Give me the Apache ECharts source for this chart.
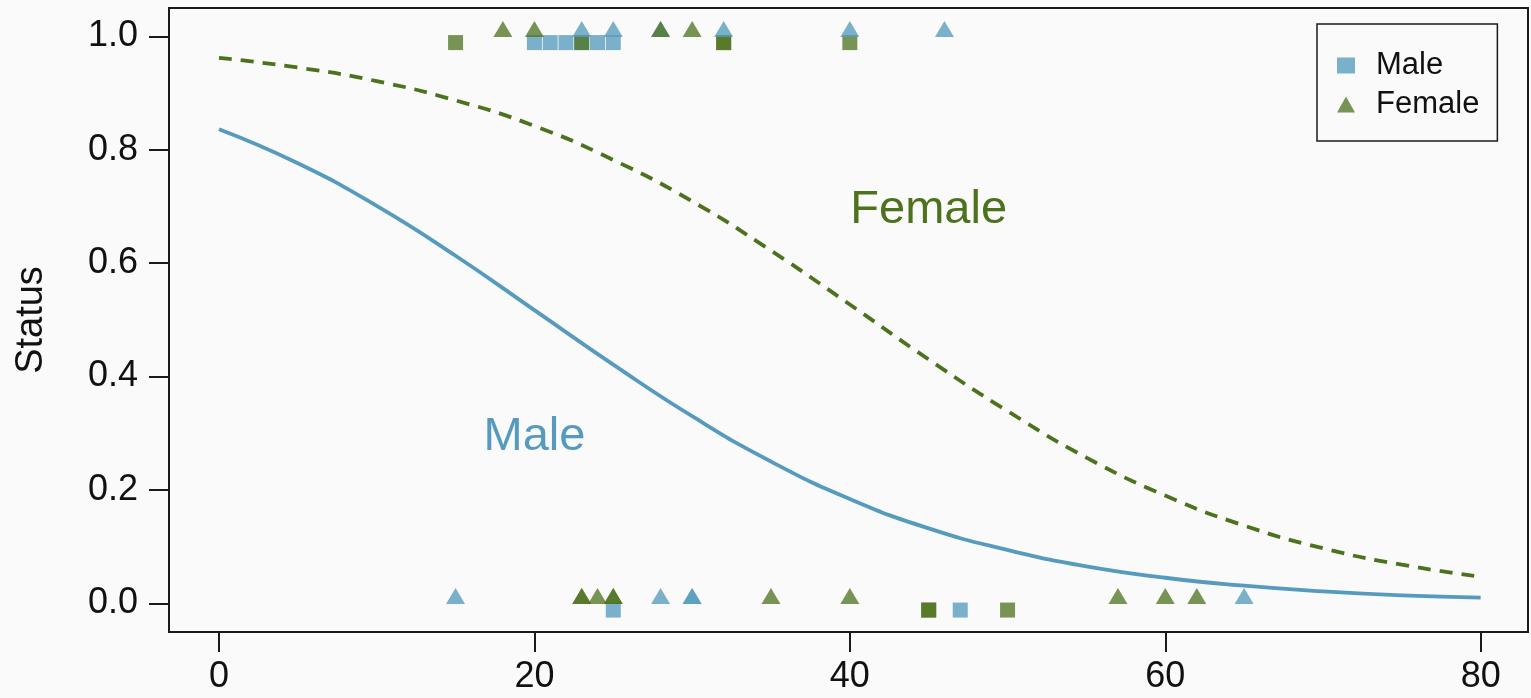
<!DOCTYPE html>
<html>
<head>
<meta charset="utf-8">
<script src="https://cdn.jsdelivr.net/npm/echarts@6/dist/echarts.min.js"></script>
<style>
html,body{margin:0;padding:0;background:#fafafa;}
#c{width:1531px;height:698px;}
</style>
</head>
<body>
<div id="c"></div>
<script>
// Tick labels
var xTicks = [0, 20, 40, 60, 80];
var yTicks = [0, 0.2, 0.4, 0.6, 0.8, 1.0];

// Observed points (age, jittered status)
var blueSquares = [[20,0.989],[21,0.989],[22,0.989],[23,0.989],[24,0.989],[25,0.989],[25,-0.012],[47,-0.012]];
var greenSquares = [[15,0.989],[23,0.989],[32,0.989],[32,0.989],[40,0.989],[45,-0.012],[45,-0.012],[50,-0.012]];
var blueTriangles = [[23,1.013],[25,1.013],[28,1.013],[32,1.013],[40,1.013],[46,1.013],[15,0.013],[28,0.013],[30,0.013],[30,0.013],[65,0.013]];
var greenTriangles = [[18,1.013],[20,1.013],[28,1.013],[30,1.013],[23,0.013],[23,0.013],[24,0.013],[25,0.013],[25,0.013],[35,0.013],[40,0.013],[57,0.013],[60,0.013],[62,0.013]];

// Fitted curves
var curveAges = [0,5,10,15,20,25,30,35,40,45,50,55,60,65,70,75,80];
var maleCurve = [0.836,0.776,0.701,0.613,0.517,0.421,0.330,0.250,0.184,0.132,0.094,0.065,0.045,0.031,0.021,0.014,0.010];
var femaleCurve = [0.962,0.945,0.921,0.887,0.842,0.782,0.709,0.622,0.527,0.430,0.339,0.257,0.190,0.137,0.097,0.068,0.047];

// Annotations
var maleLabelPos = [20, 0.30];
var femaleLabelPos = [45, 0.70];

var BLUE = '#569BBD', GREEN = '#4C721D';
var BLUE_A = 'rgba(86,155,189,0.78)', GREEN_A = 'rgba(76,114,29,0.75)';
var FONT = 'Liberation Sans, Arial, Helvetica, sans-serif';

function zip(xs, ys){ return xs.map(function(x,i){ return [x, ys[i]]; }); }

var chart = echarts.init(document.getElementById('c'), null, {renderer:'canvas'});
chart.setOption({
  backgroundColor: '#fafafa',
  animation: false,
  textStyle: {fontFamily: FONT},
  grid: {left: 169, right: 3, top: 8, bottom: 66, show: true, borderColor: '#1a1a1a', borderWidth: 2, backgroundColor: 'transparent'},
  legend: {
    left: 1317, top: 24, orient: 'vertical',
    borderColor: '#1a1a1a', borderWidth: 1.5,
    padding: [26, 18, 21, 20],
    itemGap: 8, itemWidth: 18, itemHeight: 16,
    textStyle: {fontSize: 31, color: '#111', fontFamily: FONT, lineHeight: 30, padding: [0,0,0,16]},
    data: [{name: 'Male', icon: 'rect'}, {name: 'Female', icon: 'triangle'}]
  },
  xAxis: {
    type: 'value', min: -3.17, max: 83.0,
    axisLine: {show: true, onZero: false, lineStyle: {color: '#1a1a1a', width: 2}},
    splitLine: {show: false},
    axisTick: {show: true, inside: false, length: 20, lineStyle: {color: '#1a1a1a', width: 2}, customValues: xTicks},
    axisLabel: {show: true, margin: 27, fontSize: 36, color: '#111', fontFamily: FONT, customValues: xTicks, formatter: function(v){ return String(v); }}
  },
  yAxis: {
    type: 'value', min: -0.0507, max: 1.05,
    name: 'Status', nameLocation: 'middle', nameRotate: 90, nameGap: 118,
    nameTextStyle: {fontSize: 38, color: '#111', fontFamily: FONT},
    axisLine: {show: true, onZero: false, lineStyle: {color: '#1a1a1a', width: 2}},
    splitLine: {show: false},
    axisTick: {show: true, inside: false, length: 20, lineStyle: {color: '#1a1a1a', width: 2}, customValues: yTicks},
    axisLabel: {show: true, margin: 31, fontSize: 36, color: '#111', fontFamily: FONT, customValues: yTicks, formatter: function(v){ return v.toFixed(1); }}
  },
  series: [
    {name: 'MaleCurve', type: 'line', data: zip(curveAges, maleCurve), smooth: true, showSymbol: false, symbol: 'none',
     lineStyle: {color: BLUE, width: 3.8}, z: 2, silent: true},
    {name: 'FemaleCurve', type: 'line', data: zip(curveAges, femaleCurve), smooth: true, showSymbol: false, symbol: 'none',
     lineStyle: {color: GREEN, width: 3.8, type: [13, 9]}, z: 2, silent: true},
    {name: 'Male', type: 'scatter', symbol: 'rect', symbolSize: 15, data: blueSquares, itemStyle: {color: BLUE_A, opacity: 1}, z: 3},
    {name: 'GreenSq', type: 'scatter', symbol: 'rect', symbolSize: 15, data: greenSquares, itemStyle: {color: GREEN_A, opacity: 1}, z: 3},
    {name: 'BlueTri', type: 'scatter', symbol: 'triangle', symbolSize: [19, 16], data: blueTriangles, itemStyle: {color: BLUE_A, opacity: 1}, z: 4},
    {name: 'Female', type: 'scatter', symbol: 'triangle', symbolSize: [19, 16], data: greenTriangles, itemStyle: {color: GREEN_A, opacity: 1}, z: 4},
    {name: 'labels', type: 'scatter', symbolSize: 1, itemStyle: {color: 'rgba(0,0,0,0)', opacity: 1}, silent: true, z: 5,
     data: [
       {value: maleLabelPos, label: {show: true, position: 'inside', offset: [0, 4], formatter: 'Male', fontSize: 47, color: BLUE, fontFamily: FONT}},
       {value: femaleLabelPos, label: {show: true, position: 'inside', offset: [0, 4], formatter: 'Female', fontSize: 47, color: GREEN, fontFamily: FONT}}
     ]}
  ]
});
</script>
</body>
</html>
